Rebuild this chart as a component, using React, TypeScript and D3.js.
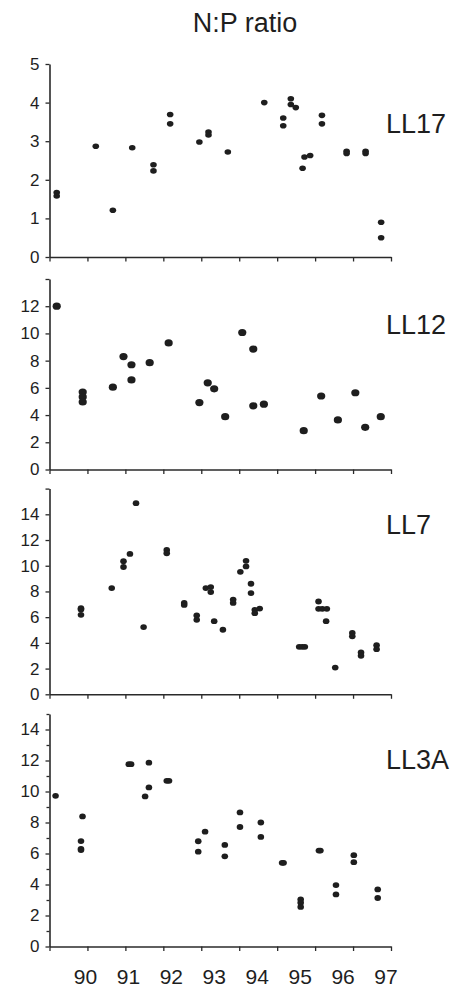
import React, { useEffect, useRef } from "react";
import * as d3 from "d3";

// ---- Data ----
const yearTicks = [89, 90, 91, 92, 93, 94, 95, 96, 97, 98];
const yearLabels = ["90", "91", "92", "93", "94", "95", "96", "97"];

const ll17Year = [89.19, 89.19, 90.22, 90.67, 91.18, 91.74, 91.74, 92.18, 92.18, 92.95, 93.19, 93.19, 93.7, 94.66, 95.16, 95.16, 95.36, 95.36, 95.49, 95.67, 95.72, 95.87, 96.18, 96.18, 96.83, 96.83, 97.33, 97.33, 97.74, 97.74];
const ll17Ratio = [1.67, 1.58, 2.87, 1.21, 2.83, 2.39, 2.23, 3.69, 3.45, 2.98, 3.24, 3.16, 2.72, 4.0, 3.6, 3.4, 4.1, 3.95, 3.87, 2.3, 2.59, 2.63, 3.67, 3.45, 2.74, 2.68, 2.74, 2.68, 0.9, 0.5];

const ll12Year = [89.19, 89.875, 89.875, 89.875, 90.67, 90.95, 91.16, 91.16, 91.64, 92.14, 92.95, 93.17, 93.34, 93.63, 94.08, 94.37, 94.37, 94.65, 95.7, 96.16, 96.6, 97.06, 97.32, 97.73];
const ll12Ratio = [12.0, 5.69, 5.33, 4.96, 6.05, 8.3, 7.7, 6.58, 7.85, 9.3, 4.92, 6.37, 5.93, 3.88, 10.07, 8.85, 4.68, 4.8, 2.85, 5.4, 3.64, 5.64, 3.1, 3.88];

const ll7Year = [89.83, 89.83, 89.83, 90.64, 90.95, 90.95, 91.12, 91.28, 91.48, 92.09, 92.09, 92.55, 92.55, 92.88, 92.88, 93.12, 93.25, 93.25, 93.34, 93.57, 93.84, 93.84, 94.03, 94.18, 94.18, 94.31, 94.31, 94.41, 94.41, 94.54, 95.58, 95.66, 95.73, 96.09, 96.09, 96.19, 96.31, 96.29, 96.53, 96.98, 96.98, 97.21, 97.21, 97.62, 97.62];
const ll7Ratio = [6.7, 6.6, 6.18, 8.26, 10.35, 9.9, 10.92, 14.87, 5.23, 11.23, 10.97, 7.1, 6.95, 6.13, 5.79, 8.26, 8.34, 7.95, 5.69, 5.02, 7.37, 7.11, 9.53, 10.38, 9.95, 8.6, 7.87, 6.57, 6.31, 6.67, 3.69, 3.69, 3.69, 7.22, 6.65, 6.65, 6.65, 5.69, 2.08, 4.77, 4.51, 3.26, 3.0, 3.82, 3.51];

const ll3aYear = [89.16, 89.87, 89.83, 89.83, 89.83, 91.09, 91.15, 91.62, 91.62, 91.52, 92.09, 92.15, 92.92, 92.92, 93.1, 93.62, 93.62, 94.02, 94.02, 94.57, 94.57, 95.13, 95.17, 95.62, 95.62, 95.62, 96.1, 96.14, 96.55, 96.55, 97.02, 97.02, 97.65, 97.65];
const ll3aRatio = [9.72, 8.39, 6.8, 6.3, 6.22, 11.76, 11.76, 11.86, 10.26, 9.68, 10.69, 10.69, 6.79, 6.12, 7.41, 6.55, 5.82, 8.65, 7.71, 8.0, 7.07, 5.4, 5.4, 3.04, 2.83, 2.55, 6.19, 6.19, 3.96, 3.36, 5.89, 5.44, 3.68, 3.13];

const FONT = "'Liberation Sans', Arial, Helvetica, sans-serif";
const INK = "#1e1e1e";

export default function App() {
  const ref = useRef<SVGSVGElement | null>(null);

  useEffect(() => {
    document.body.style.margin = "0";
    const svg = d3.select(ref.current);
    svg.selectAll("*").remove();

    const x = d3.scaleLinear().domain([89, 98]).range([49.5, 391]);

    const panels = [
      { name: "LL17", years: ll17Year, values: ll17Ratio, max: 5, y0: 257, y1: 64, step: 1, labelMax: 5, minor: false, rx: 3.3, ry: 2.8, labelY: 132.5 },
      { name: "LL12", years: ll12Year, values: ll12Ratio, max: 14, y0: 469.5, y1: 279, step: 2, labelMax: 12, minor: false, rx: 4.1, ry: 3.6, labelY: 333.5 },
      { name: "LL7", years: ll7Year, values: ll7Ratio, max: 16, y0: 694.3, y1: 488.6, step: 2, labelMax: 14, minor: false, rx: 3.3, ry: 2.9, labelY: 533.5 },
      { name: "LL3A", years: ll3aYear, values: ll3aRatio, max: 15, y0: 946.5, y1: 714, step: 2, labelMax: 14, minor: true, rx: 3.3, ry: 2.9, labelY: 768.5 },
    ];

    svg
      .append("text")
      .attr("x", 245)
      .attr("y", 31.5)
      .attr("text-anchor", "middle")
      .attr("font-family", FONT)
      .attr("font-size", 27)
      .attr("fill", INK)
      .text("N:P ratio");

    panels.forEach((p, i) => {
      const y = d3.scaleLinear().domain([0, p.max]).range([p.y0, p.y1]);
      const g = svg.append("g");

      // y axis
      const yTicks = d3.range(0, p.max + 0.001, p.step);
      const yAxis = d3
        .axisLeft(y)
        .tickValues(yTicks)
        .tickSize(4)
        .tickSizeOuter(0)
        .tickPadding(6)
        .tickFormat((d: any) => (d <= p.labelMax ? String(d) : ""));
      const ya = g.append("g").attr("transform", `translate(${x(89)},0)`).call(yAxis);
      ya.selectAll("text").attr("font-family", FONT).attr("font-size", 17).attr("fill", INK);
      if (p.minor) {
        const minorAxis = d3
          .axisLeft(y)
          .tickValues(d3.range(1, p.max + 0.001, 2))
          .tickSize(3)
          .tickSizeOuter(0)
          .tickFormat(() => "");
        const ma = g.append("g").attr("transform", `translate(${x(89)},0)`).call(minorAxis);
        ma.select(".domain").remove();
        ma.selectAll("line").attr("stroke", "#333").attr("stroke-width", 1.2);
      }

      // x axis
      const xAxis = d3
        .axisBottom(x)
        .tickValues(yearTicks)
        .tickSize(4.5)
        .tickSizeOuter(0)
        .tickFormat(() => "");
      g.append("g").attr("transform", `translate(0,${y(0)})`).call(xAxis);

      g.selectAll(".domain").attr("stroke", "#2a2a2a").attr("stroke-width", 1.6);
      g.selectAll(".tick line").attr("stroke", "#2a2a2a").attr("stroke-width", 1.3);

      // points
      g.append("g")
        .selectAll("ellipse")
        .data(p.years.map((yr, k) => [yr, p.values[k]]))
        .join("ellipse")
        .attr("cx", (d) => x(d[0]))
        .attr("cy", (d) => y(d[1]))
        .attr("rx", p.rx)
        .attr("ry", p.ry)
        .attr("fill", INK);

      // panel label
      g.append("text")
        .attr("x", 386)
        .attr("y", p.labelY)
        .attr("font-family", FONT)
        .attr("font-size", 27)
        .attr("fill", INK)
        .text(p.name);

      // bottom year labels
      if (i === panels.length - 1) {
        const lx = d3.scalePoint<string>().domain(yearLabels).range([85.5, 386]);
        g.append("g")
          .selectAll("text.year")
          .data(yearLabels)
          .join("text")
          .attr("class", "year")
          .attr("x", (d) => lx(d) as number)
          .attr("y", 984)
          .attr("text-anchor", "middle")
          .attr("font-family", FONT)
          .attr("font-size", 21)
          .attr("fill", INK)
          .text((d) => d);
      }
    });
  }, []);

  return (
    <svg
      ref={ref}
      width={456}
      height={987}
      viewBox="0 0 456 987"
      style={{ display: "block", position: "absolute", left: 0, top: 0, background: "#fff" }}
    />
  );
}
